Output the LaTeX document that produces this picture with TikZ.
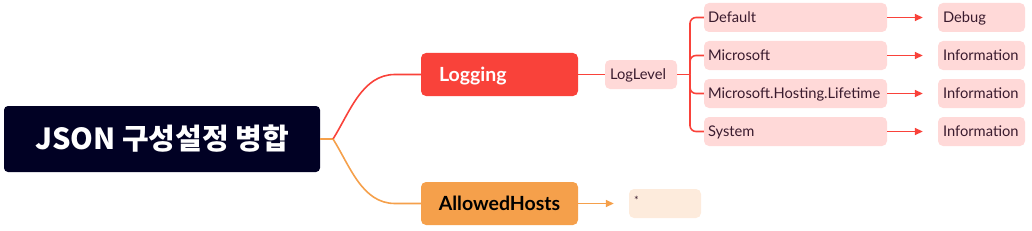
\documentclass[tikz,border=0pt]{standalone}
\usepackage{fontspec}
\setmainfont{Lato}
\newfontfamily\krfont{Noto Sans CJK KR}
\usetikzlibrary{arrows.meta}
\definecolor{navy}{HTML}{010124}
\definecolor{redc}{HTML}{F9423A}
\definecolor{orangec}{HTML}{F5A04B}
\definecolor{pinkc}{HTML}{FFD9D8}
\definecolor{peachc}{HTML}{FDEBDC}
\definecolor{darktxt}{HTML}{3A1B2E}
\tikzset{
  rootbox/.style={fill=navy, rounded corners=4pt, text=white, font=\krfont\bfseries\fontsize{29}{33}\selectfont, minimum width=316pt, minimum height=66pt, inner sep=0pt},
  mainbox/.style={rounded corners=5pt, minimum width=157pt, minimum height=43pt, inner sep=0pt, text height=15pt, text depth=1pt, font=\bfseries\fontsize{19.5}{22}\selectfont},
  leafbox/.style={fill=pinkc, rounded corners=5pt, minimum height=29pt, inner sep=0pt, text height=11pt, text depth=0.5pt, text=darktxt, align=left, font=\fontsize{14.7}{17}\selectfont},
  redline/.style={draw=redc, line width=1.6pt},
  orangeline/.style={draw=orangec, line width=1.6pt},
  arr/.style={-{Triangle[length=8pt,width=7pt]}}
}
\begin{document}
\begin{tikzpicture}[x=1pt,y=-1pt]
\useasboundingbox (0,0) rectangle (1032,230);
% root
\node[rootbox] (root) at (162,139) {JSON 구성설정 병합};
% main nodes
\node[mainbox, fill=redc, text=white, text width=121pt, align=left] (log) at (499.5,74.5) {Logging};
\node[mainbox, fill=orangec, text=black] (ah) at (499.5,203.5) {AllowedHosts};
% LogLevel
\node[leafbox, minimum width=72pt, text width=62pt] (ll) at (641,74.5) {LogLevel};
% children
\foreach \n/\t/\y in {c1/Default/17.5, c2/Microsoft/55.5, c3/Microsoft.Hosting.Lifetime/93.5, c4/System/131.5}{
  \node[leafbox, minimum width=183pt, text width=175pt] (\n) at (795.5,\y) {\t};
}
\foreach \n/\t/\y in {v1/Debug/17.5, v2/Information/55.5, v3/Information/93.5, v4/Information/131.5}{
  \node[leafbox, minimum width=87pt, text width=77pt] (\n) at (981.5,\y) {\t};
}
% star
\node[fill=peachc, rounded corners=5pt, minimum width=72pt, minimum height=29pt, inner sep=0pt] (st) at (665,203.5) {};
\node[font=\fontsize{11}{12}\selectfont, text=darktxt, anchor=north west, inner sep=0pt] (stt) at (634,196) {*};
% connectors
\coordinate (rj) at (333,139);
\draw[orangeline] (root.east) -- (rj);
\draw[redline] (rj) .. controls (350,112) and (362,74.5) .. (395,74.5) -- (log.west);
\draw[orangeline] (rj) .. controls (350,166) and (362,203.5) .. (395,203.5) -- (ah.west);
\draw[redline] (log.east) -- (ll.west);
\coordinate (bj) at (690,74.5);
\draw[redline] (ll.east) -- (bj);
\foreach \n in {c1,c2,c3,c4}{
  \draw[redline, rounded corners=6pt] (bj) |- (\n.west);
}
\foreach \a/\b in {c1/v1,c2/v2,c3/v3,c4/v4}{
  \draw[redline, arr, shorten >=15pt] (\a.east) -- (\b.west);
}
\draw[orangeline, arr, shorten >=15pt] (ah.east) -- (st.west);
\end{tikzpicture}
\end{document}
